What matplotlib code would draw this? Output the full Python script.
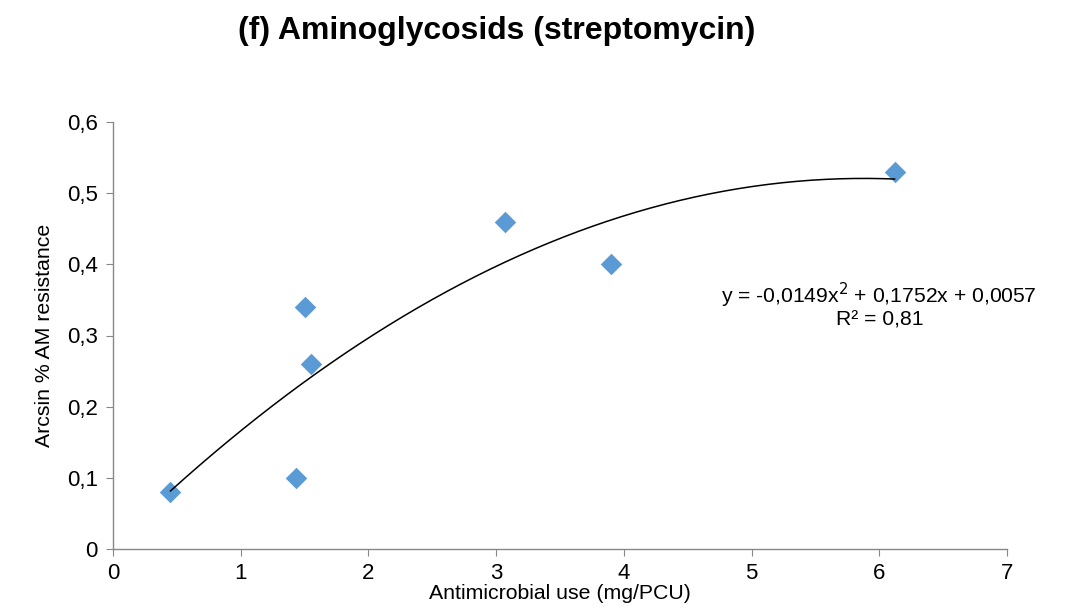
import numpy as np
import matplotlib
matplotlib.use("Agg")
from matplotlib import pyplot as plt

plt.rcParams['font.family'] = ['Liberation Sans', 'DejaVu Sans']

use_mg_pcu = [0.45, 1.43, 1.50, 1.55, 3.07, 3.90, 6.12]
arcsin_res = [0.08, 0.10, 0.34, 0.26, 0.46, 0.40, 0.53]

# polynomial trend line (order 2) as printed on the chart
trend_coef = [-0.0149, 0.1752, 0.0057]
r_squared = 0.81

x_ticks = [0, 1, 2, 3, 4, 5, 6, 7]
y_ticks = [0, 0.1, 0.2, 0.3, 0.4, 0.5, 0.6]

fig = plt.figure(figsize=(10.83, 6.14), dpi=100)
ax = fig.add_axes([113 / 1083, 1 - 549 / 614, (1007 - 113) / 1083, (549 - 122) / 614])

ax.scatter(use_mg_pcu, arcsin_res, marker='D', s=120, color='#5B9BD5', zorder=3, linewidths=0)

xs = np.linspace(min(use_mg_pcu), max(use_mg_pcu), 200)
ax.plot(xs, np.polyval(trend_coef, xs), color='black', lw=1.1, zorder=4)

ax.set_xlim(0, 7)
ax.set_ylim(0, 0.6)
ax.set_xticks(x_ticks)
ax.set_yticks(y_ticks)
ax.set_xticklabels([str(t) for t in x_ticks])
ax.set_yticklabels([('%g' % t).replace('.', ',') for t in y_ticks])

for side in ['top', 'right']:
    ax.spines[side].set_visible(False)
for side in ['left', 'bottom']:
    ax.spines[side].set_color('#888888')
    ax.spines[side].set_linewidth(1.0)
ax.tick_params(axis='both', direction='out', length=5, color='#888888', labelsize=16, colors='black')
ax.tick_params(axis='x', pad=5)
ax.tick_params(axis='y', pad=6)
for lbl in ax.get_xticklabels() + ax.get_yticklabels():
    lbl.set_color('black')

ax.set_xlabel('Antimicrobial use (mg/PCU)', fontsize=15.3, labelpad=0)
ax.set_ylabel('Arcsin % AM resistance', fontsize=15.3, labelpad=9)

eq = 'y = -0,0149x$^{2}$ + 0,1752x + 0,0057\nR² = ' + ('%g' % r_squared).replace('.', ',')
ax.text(6.0, 0.343, eq, fontsize=15.2, ha='center', va='center', linespacing=1.05)

fig.text(497 / 1083, 1 - 31 / 614, '(f) Aminoglycosids (streptomycin)', fontsize=23,
         fontweight='bold', ha='center', va='center')

fig.savefig('out.png', dpi=100)
